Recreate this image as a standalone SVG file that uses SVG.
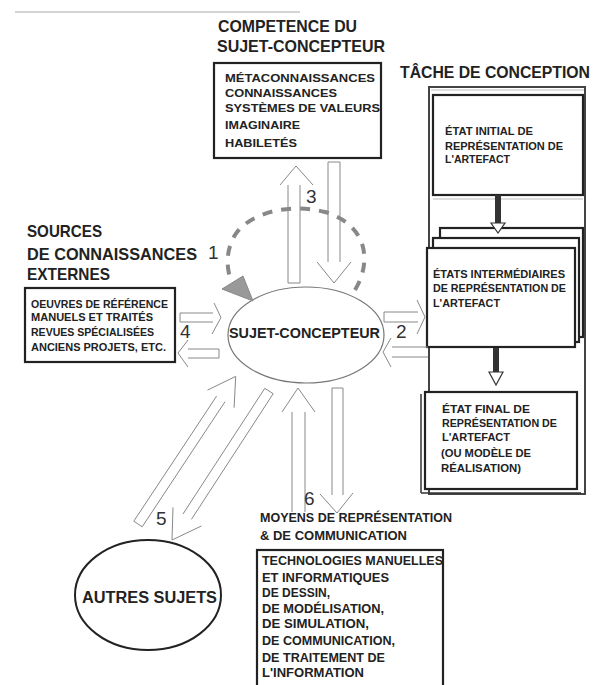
<svg xmlns="http://www.w3.org/2000/svg" width="600" height="685" viewBox="0 0 600 685">
<style>
text{font-family:"Liberation Sans",Arial,sans-serif;font-weight:bold;fill:#222}
.h{font-size:17px}
.s{font-size:11px}
.m{font-size:12.5px}
.n{font-size:19px;font-weight:normal;fill:#333}
.box{fill:#fff;stroke:#222;stroke-width:2.2}
.arr{fill:none;stroke:#888;stroke-width:1;stroke-linejoin:miter}
.dark{fill:#333}
.tri{fill:#fff;stroke:#333;stroke-width:1.2}
</style>
<rect width="600" height="685" fill="#fff"/>
<line x1="15" y1="12" x2="300" y2="12" stroke="#aaa" stroke-width="1"/>

<g id="competence">
<text class="h" x="218" y="32" textLength="139" lengthAdjust="spacingAndGlyphs">COMPETENCE DU</text>
<text class="h" x="217" y="52" textLength="168" lengthAdjust="spacingAndGlyphs">SUJET-CONCEPTEUR</text>
<rect class="box" x="214" y="63" width="167" height="95"/>
<text class="s" x="225" y="82" textLength="150" lengthAdjust="spacingAndGlyphs">MÉTACONNAISSANCES</text>
<text class="s" x="225" y="97" textLength="112" lengthAdjust="spacingAndGlyphs">CONNAISSANCES</text>
<text class="s" x="225" y="112" textLength="155" lengthAdjust="spacingAndGlyphs">SYSTÈMES DE VALEURS</text>
<text class="s" x="225" y="129" textLength="75" lengthAdjust="spacingAndGlyphs">IMAGINAIRE</text>
<text class="s" x="225" y="147" textLength="72" lengthAdjust="spacingAndGlyphs">HABILETÉS</text>
</g>

<g id="tache">
<text x="400" y="78" font-size="16" textLength="190" lengthAdjust="spacingAndGlyphs">TÂCHE DE CONCEPTION</text>
<rect x="429" y="87" width="156" height="407" fill="none" stroke="#444" stroke-width="2"/>
<line x1="431" y1="90" x2="584" y2="90" stroke="#bbb" stroke-width="1"/>
</g>

<g id="etat-initial">
<rect class="box" x="433" y="95" width="150" height="100" stroke-width="2.6"/>
<line x1="433" y1="199" x2="583" y2="199" stroke="#bbb" stroke-width="1"/>
<text class="s" x="445" y="135" textLength="88" lengthAdjust="spacingAndGlyphs">ÉTAT INITIAL DE</text>
<text class="s" x="445" y="150" textLength="118" lengthAdjust="spacingAndGlyphs">REPRÉSENTATION DE</text>
<text class="s" x="445" y="163" textLength="65" lengthAdjust="spacingAndGlyphs">L'ARTEFACT</text>
</g>

<g id="etats-intermediaires">
<rect class="box" x="440" y="228" width="143" height="109"/>
<rect class="box" x="433" y="238" width="146" height="104"/>
<rect class="box" x="427" y="248" width="148" height="99" stroke-width="2.6"/>
<text class="s" x="433" y="278" textLength="132" lengthAdjust="spacingAndGlyphs">ÉTATS INTERMÉDIAIRES</text>
<text class="s" x="433" y="292" textLength="133" lengthAdjust="spacingAndGlyphs">DE REPRÉSENTATION DE</text>
<text class="s" x="433" y="307" textLength="67" lengthAdjust="spacingAndGlyphs">L'ARTEFACT</text>
</g>

<g id="etat-final">
<rect class="box" x="425" y="392" width="152" height="97" stroke-width="2.6"/>
<line x1="421" y1="394" x2="421" y2="493" stroke="#333" stroke-width="1.5"/>
<line x1="421" y1="493" x2="581" y2="493" stroke="#333" stroke-width="1.5"/>
<text class="s" x="442" y="413" textLength="88" lengthAdjust="spacingAndGlyphs">ÉTAT FINAL DE</text>
<text class="s" x="442" y="427" textLength="115" lengthAdjust="spacingAndGlyphs">REPRÉSENTATION DE</text>
<text class="s" x="442" y="441" textLength="68" lengthAdjust="spacingAndGlyphs">L'ARTEFACT</text>
<text class="s" x="441" y="457" textLength="90" lengthAdjust="spacingAndGlyphs">(OU MODÈLE DE</text>
<text class="s" x="441" y="472" textLength="80" lengthAdjust="spacingAndGlyphs">RÉALISATION)</text>
</g>

<g id="sources">
<text class="h" x="27" y="237" textLength="75" lengthAdjust="spacingAndGlyphs">SOURCES</text>
<text class="h" x="27" y="260" textLength="170" lengthAdjust="spacingAndGlyphs">DE CONNAISSANCES</text>
<text class="h" x="27" y="280" textLength="83" lengthAdjust="spacingAndGlyphs">EXTERNES</text>
<rect class="box" x="25" y="288" width="150" height="74"/>
<text class="s" x="31" y="308" font-size="10.5" textLength="137" lengthAdjust="spacingAndGlyphs">OEUVRES DE RÉFÉRENCE</text>
<text class="s" x="31" y="321" font-size="10.5" textLength="122" lengthAdjust="spacingAndGlyphs">MANUELS ET TRAITÉS</text>
<text class="s" x="31" y="336" font-size="10.5" textLength="123" lengthAdjust="spacingAndGlyphs">REVUES SPÉCIALISÉES</text>
<text class="s" x="31" y="351" font-size="10.5" textLength="135" lengthAdjust="spacingAndGlyphs">ANCIENS PROJETS, ETC.</text>
</g>

<g id="sujet-concepteur">
<ellipse cx="306" cy="335" rx="78" ry="48" fill="#fff" stroke="#777" stroke-width="1.2"/>
<text x="229" y="338" font-size="14" textLength="151" lengthAdjust="spacingAndGlyphs">SUJET-CONCEPTEUR</text>
</g>

<g id="autres-sujets">
<ellipse cx="148" cy="595" rx="73" ry="55" fill="#fff" stroke="#222" stroke-width="2"/>
<text x="82" y="603" font-size="16" textLength="135" lengthAdjust="spacingAndGlyphs">AUTRES SUJETS</text>
</g>

<g id="moyens">
<text class="m" x="260" y="522" textLength="192" lengthAdjust="spacingAndGlyphs">MOYENS DE REPRÉSENTATION</text>
<text class="m" x="260" y="540" textLength="147" lengthAdjust="spacingAndGlyphs">&amp; DE COMMUNICATION</text>
<rect class="box" x="257" y="550" width="186" height="145"/>
<text x="262" y="565" font-size="13" textLength="181" lengthAdjust="spacingAndGlyphs">TECHNOLOGIES MANUELLES</text>
<text x="262" y="582" font-size="13" textLength="127" lengthAdjust="spacingAndGlyphs">ET INFORMATIQUES</text>
<text x="262" y="597" font-size="13" textLength="68" lengthAdjust="spacingAndGlyphs">DE DESSIN,</text>
<text x="262" y="613" font-size="13" textLength="122" lengthAdjust="spacingAndGlyphs">DE MODÉLISATION,</text>
<text x="262" y="628" font-size="13" textLength="107" lengthAdjust="spacingAndGlyphs">DE SIMULATION,</text>
<text x="262" y="645" font-size="13" textLength="133" lengthAdjust="spacingAndGlyphs">DE COMMUNICATION,</text>
<text x="262" y="662" font-size="13" textLength="123" lengthAdjust="spacingAndGlyphs">DE TRAITEMENT DE</text>
<text x="262" y="677" font-size="13" textLength="102" lengthAdjust="spacingAndGlyphs">L'INFORMATION</text>
</g>

<g id="connectors">
<rect class="dark" x="495" y="195" width="6" height="28"/>
<polygon class="tri" points="491,223 505,223 498,233"/>
<rect class="dark" x="493" y="348" width="6" height="24"/>
<polygon class="tri" points="489,372 503,372 496,385"/>
<path d="M355,290 C372,262 368,225 325,212 C290,203 250,212 235,235 C226,250 226,266 231,281" fill="none" stroke="#888" stroke-width="4" stroke-dasharray="10,9"/>
<polygon points="222,289 243,276 253,301" fill="#999" stroke="#888" stroke-width="1"/>
<path class="arr" d="M288,185 V283 H300 V185 M280,185 L296,166 L313,185"/>
<path class="arr" d="M328,262 V162 H340 V262 M317,262 L334,283 L351,262"/>
<path class="arr" d="M213,313 H180 V322 H213 M214,303 L221,317.5 L212,334"/>
<path class="arr" d="M188,349 H219 V358 H188 M188,340 L178,353 L188,367"/>
<path class="arr" d="M418,312 H384 V322 H418 M417,300 L425,317 L417,334"/>
<path class="arr" d="M428,347 H392 M392,357 H428 M391,338 L383,352 L391,367"/>
<path class="arr" d="M216.6,396.1 L133.8,521.2 L142.2,526.8 L225,401.7 M207.5,390.1 L235.7,376.4 L234.1,407.7"/>
<path class="arr" d="M183,514 L264.8,388.3 L273.2,393.7 L191.4,519.4 M173,507.4 L172,540 L201.4,526"/>
<path class="arr" d="M292,512 V412 M305,412 V512 M282,412 L298,388 L315,412"/>
<path class="arr" d="M332,495 V388 H343 V495 M320,494 L337,513 L353,493"/>
</g>

<g id="labels">
<text class="n" x="208" y="259">1</text>
<text class="n" x="396" y="338">2</text>
<text class="n" x="306" y="203">3</text>
<text class="n" x="180" y="338" font-size="20">4</text>
<text class="n" x="156" y="525" font-size="18">5</text>
<text class="n" x="304" y="505">6</text>
</g>
</svg>
